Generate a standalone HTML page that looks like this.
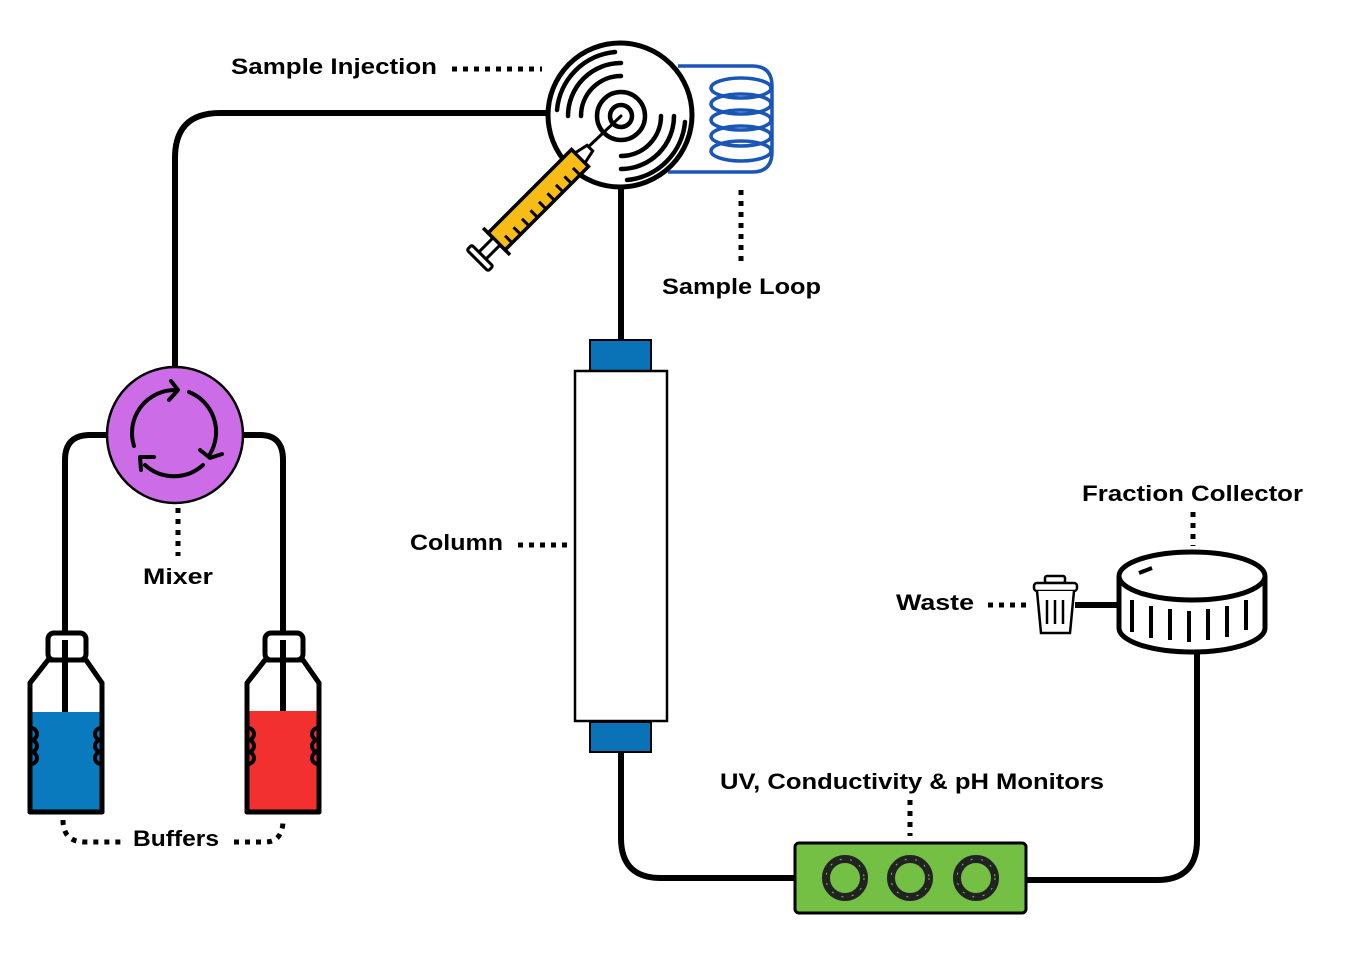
<!DOCTYPE html>
<html><head><meta charset="utf-8"><style>
html,body{margin:0;padding:0;background:#fff;}
svg{display:block;}
text{font-family:"Liberation Sans",sans-serif;font-weight:bold;font-size:22px;fill:#000;}
</style></head><body>
<svg width="1348" height="953" viewBox="0 0 1348 953" xmlns="http://www.w3.org/2000/svg">
<!-- pipes -->
<g fill="none" stroke="#000" stroke-width="6" stroke-linejoin="round">
<path d="M548 113 H220 Q175 113 175 158 V368"/>
<path d="M108 435 H90 Q65 435 65 460 V712"/>
<path d="M244 435 H260 Q283 435 283 460 V712"/>
<path d="M621 188 V341"/>
<path d="M621 752 V838 Q621 878 661 878 H795"/>
<path d="M1026 880 H1157 Q1197 880 1197 840 V652"/>
<path d="M1075 605 H1119"/>
</g>
<!-- dotted leaders -->
<g fill="none" stroke="#000" stroke-width="5" stroke-dasharray="5 6">
<path d="M452 69 H542"/>
<path d="M741 190 V266"/>
<path d="M178 508 V556"/>
<path d="M518 545 H570"/>
<path d="M910 800 V836"/>
<path d="M1193 512 V546"/>
<path d="M988 605 H1032"/>
<path d="M63 820 Q63 842 85 842 H122"/>
<path d="M234 842 H265 Q283 842 283 820"/>
</g>
<!-- sample loop -->
<g fill="none" stroke="#1a56b8" stroke-width="3.5">
<path d="M678 66 H752 Q772 66 772 86 V152 Q772 172 752 172 H668"/>
<ellipse cx="741" cy="88" rx="30" ry="10"/>
<ellipse cx="741" cy="104" rx="30" ry="10"/>
<ellipse cx="741" cy="120" rx="30" ry="10"/>
<ellipse cx="741" cy="136" rx="30" ry="10"/>
<ellipse cx="741" cy="151" rx="30" ry="10"/>
</g>
<!-- valve -->
<circle cx="620" cy="115" r="72" fill="#fff" stroke="#000" stroke-width="5"/>
<g fill="none" stroke="#000" stroke-width="4.5" stroke-linecap="round">
<circle cx="621" cy="116" r="24"/>
<circle cx="621" cy="116" r="11"/>
<path d="M581 116 A40 40 0 0 1 621 76"/>
<path d="M568 116 A53 53 0 0 1 621 63"/>
<path d="M557 110 A64 64 0 0 1 615 52"/>
<path d="M661 116 A40 40 0 0 1 621 156"/>
<path d="M674 116 A53 53 0 0 1 621 169"/>
<path d="M685 122 A64 64 0 0 1 627 180"/>
<path d="M621 116 L585 150" stroke-width="3"/>
</g>
<!-- syringe -->
<g transform="translate(580,158) rotate(135)">
<rect x="0" y="-12" width="118" height="24" fill="#f7bd16" stroke="#000" stroke-width="3.5"/>
<path d="M0 -7 L-14 -4 L-14 4 L0 7 Z" fill="#fff" stroke="#000" stroke-width="3"/>
<g stroke="#000" stroke-width="3">
<line x1="12" y1="-12" x2="12" y2="-2"/><line x1="24" y1="-12" x2="24" y2="-2"/><line x1="36" y1="-12" x2="36" y2="-2"/><line x1="48" y1="-12" x2="48" y2="-2"/><line x1="60" y1="-12" x2="60" y2="-2"/><line x1="72" y1="-12" x2="72" y2="-2"/><line x1="84" y1="-12" x2="84" y2="-2"/><line x1="96" y1="-12" x2="96" y2="-2"/><line x1="108" y1="-12" x2="108" y2="-2"/>
<line x1="118" y1="-19" x2="118" y2="19" stroke-width="3.5"/>
</g>
<rect x="118" y="-5" width="20" height="10" fill="#fff" stroke="#000" stroke-width="3"/>
<rect x="138" y="-15" width="7" height="30" rx="2" fill="#fff" stroke="#000" stroke-width="3"/>
</g>
<!-- mixer -->
<circle cx="175" cy="435" r="68" fill="#cc6ce6" stroke="#000" stroke-width="2.5"/>
<g fill="none" stroke="#000" stroke-width="4" stroke-linecap="round" stroke-linejoin="round">
<path d="M134 446 A43 43 0 0 1 176 390"/>
<path d="M171 381 L178 390 L169 400"/>
<path d="M189 392 A43 43 0 0 1 210 454"/>
<path d="M200 450 L210 458 L222 454"/>
<path d="M203 465 A43 43 0 0 1 145 465"/>
<path d="M154 457 L140 457 L141 470"/>
</g>
<!-- bottles -->
<g stroke="#000" stroke-width="5" stroke-linejoin="round">
<rect x="48" y="633" width="38" height="27" rx="6" fill="#fff"/>
<path d="M48 660 L30 683 V812 H102 V683 L86 660 Z" fill="#fff"/>
<rect x="32" y="712" width="68" height="98" fill="#0a7abf" stroke="none"/>
<path d="M48 660 L30 683 V812 H102 V683 L86 660" fill="none"/>
<path d="M31 728 a6 6 0 0 1 0 12 a6 6 0 0 1 0 12 a6 6 0 0 1 0 12 M101 728 a6 6 0 0 0 0 12 a6 6 0 0 0 0 12 a6 6 0 0 0 0 12" fill="none" stroke-width="4"/>
<line x1="65" y1="640" x2="65" y2="712" stroke-width="6"/>
<rect x="265" y="633" width="38" height="27" rx="6" fill="#fff"/>
<path d="M265 660 L247 683 V812 H319 V683 L303 660 Z" fill="#fff"/>
<rect x="249" y="711" width="68" height="99" fill="#f33030" stroke="none"/>
<path d="M265 660 L247 683 V812 H319 V683 L303 660" fill="none"/>
<path d="M248 728 a6 6 0 0 1 0 12 a6 6 0 0 1 0 12 a6 6 0 0 1 0 12 M318 728 a6 6 0 0 0 0 12 a6 6 0 0 0 0 12 a6 6 0 0 0 0 12" fill="none" stroke-width="4"/>
<line x1="283" y1="640" x2="283" y2="711" stroke-width="6"/>
</g>
<!-- column -->
<rect x="590" y="340" width="61" height="31" fill="#0a73b8" stroke="#000" stroke-width="2"/>
<rect x="575" y="371" width="92" height="350" fill="#fff" stroke="#000" stroke-width="2.5"/>
<rect x="590" y="722" width="61" height="30" fill="#0a73b8" stroke="#000" stroke-width="2"/>
<!-- monitors -->
<rect x="795" y="843" width="231" height="70" rx="4" fill="#74c044" stroke="#000" stroke-width="3"/>
<g fill="none" stroke="#222" stroke-width="8">
<circle cx="845" cy="878" r="19"/><circle cx="910" cy="878" r="19"/><circle cx="976" cy="878" r="19"/>
</g>
<g fill="none" stroke="#74c044" stroke-width="1" stroke-dasharray="2 8.5">
<circle cx="845" cy="878" r="19"/><circle cx="910" cy="878" r="19"/><circle cx="976" cy="878" r="19"/>
</g>
<!-- fraction collector -->
<g fill="#fff" stroke="#000" stroke-width="5">
<path d="M1119 576 V628 A73 24 0 0 0 1265 628 V576"/>
<ellipse cx="1192" cy="576" rx="73" ry="24"/>
</g>
<g stroke="#000" stroke-width="4">
<line x1="1132" y1="600" x2="1132" y2="632"/><line x1="1151" y1="606" x2="1151" y2="638"/><line x1="1170" y1="609" x2="1170" y2="640"/><line x1="1189" y1="611" x2="1189" y2="642"/><line x1="1208" y1="609" x2="1208" y2="640"/><line x1="1227" y1="606" x2="1227" y2="637"/><line x1="1246" y1="600" x2="1246" y2="630"/>
<line x1="1139" y1="573" x2="1152" y2="568"/>
</g>
<!-- waste bin -->
<g fill="#fff" stroke="#000" stroke-width="2.5">
<rect x="1045" y="576" width="20" height="7" rx="2"/>
<rect x="1034" y="583" width="43" height="8" rx="3"/>
<path d="M1037 591 L1041 633 H1070 L1074 591"/>
<line x1="1047" y1="600" x2="1047" y2="624"/><line x1="1055" y1="600" x2="1055" y2="624"/><line x1="1063" y1="600" x2="1063" y2="624"/>
</g>
<!-- labels -->
<text x="231" y="74" textLength="206" lengthAdjust="spacingAndGlyphs">Sample Injection</text>
<text x="662" y="294" textLength="159" lengthAdjust="spacingAndGlyphs">Sample Loop</text>
<text x="143" y="584" textLength="70" lengthAdjust="spacingAndGlyphs">Mixer</text>
<text x="410" y="550" textLength="93" lengthAdjust="spacingAndGlyphs">Column</text>
<text x="133" y="846" textLength="86" lengthAdjust="spacingAndGlyphs">Buffers</text>
<text x="720" y="789" textLength="384" lengthAdjust="spacingAndGlyphs">UV, Conductivity &amp; pH Monitors</text>
<text x="1082" y="501" textLength="221" lengthAdjust="spacingAndGlyphs">Fraction Collector</text>
<text x="896" y="610" textLength="78" lengthAdjust="spacingAndGlyphs">Waste</text>
</svg>
</body></html>
